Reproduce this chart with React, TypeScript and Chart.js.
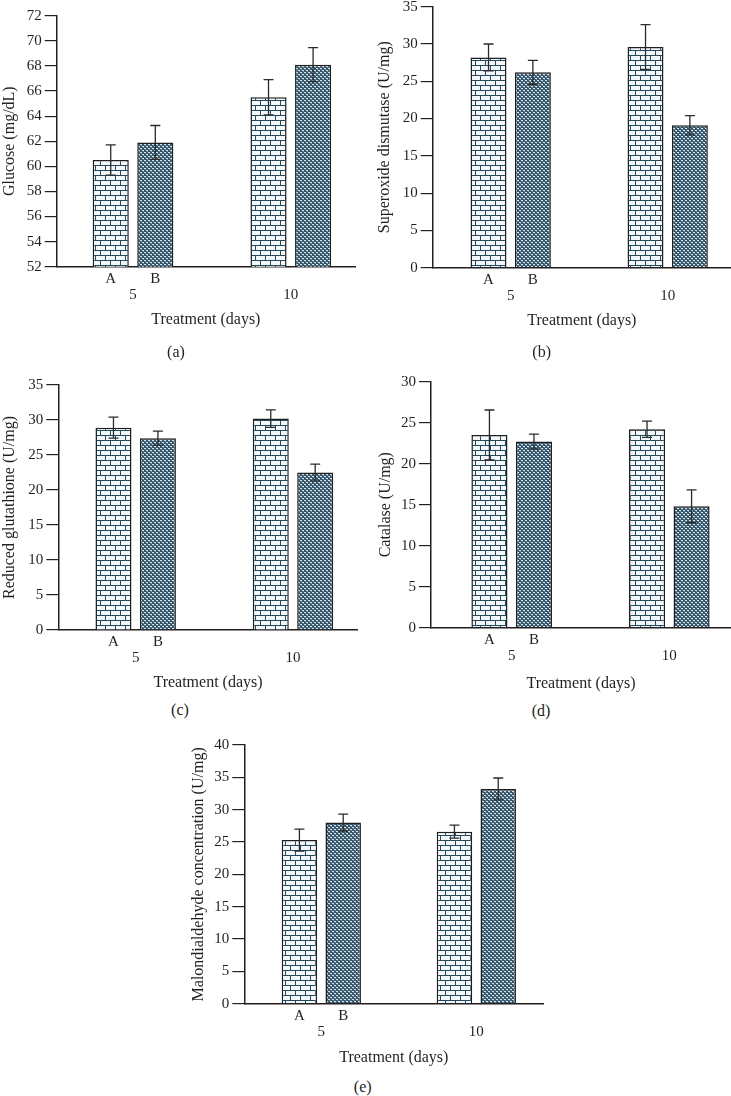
import { useEffect, useRef } from "react";
import { Chart, registerables } from "chart.js";

Chart.register(...registerables);

// ---------- data ----------
const days = [5, 10];
const seriesLabels = ["A", "B"];
const xTitle = "Treatment (days)";

const glucoseA = [60.5, 65.5];
const glucoseB = [61.9, 68.1];
const glucoseErrA = [1.2, 1.4];
const glucoseErrB = [1.35, 1.35];
const glucoseTicks = [52, 54, 56, 58, 60, 62, 64, 66, 68, 70, 72];

const sodA = [28.2, 29.6];
const sodB = [26.2, 19.1];
const sodErrA = [1.8, 3.0];
const sodErrB = [1.6, 1.3];
const sodTicks = [0, 5, 10, 15, 20, 25, 30, 35];

const gshA = [28.9, 30.2];
const gshB = [27.4, 22.5];
const gshErrA = [1.5, 1.25];
const gshErrB = [1.0, 1.2];
const gshTicks = [0, 5, 10, 15, 20, 25, 30, 35];

const catA = [23.5, 24.2];
const catB = [22.7, 14.8];
const catErrA = [3.05, 1.0];
const catErrB = [0.9, 2.0];
const catTicks = [0, 5, 10, 15, 20, 25, 30];

const mdaA = [25.3, 26.6];
const mdaB = [28.0, 33.2];
const mdaErrA = [1.7, 1.0];
const mdaErrB = [1.3, 1.7];
const mdaTicks = [0, 5, 10, 15, 20, 25, 30, 35, 40];

// ---------- style ----------
const FONT = "'Liberation Serif', 'DejaVu Serif', serif";
const TEXT = "#231f20";
const AXIS = "#231f20";
const LINE = "#24495b";
const TITLE_SIZE = 16;
const TICK_SIZE = 15;
const TITLE_LH = TITLE_SIZE * 1.2;

type Frame = {
  x0: number; y0: number; w: number; h: number;
  L: number; T: number; R: number; B: number;
  yTitleX: number; xTitleY: number; xMin: number; xMax: number;
};

type Panel = {
  key: string;
  caption: string;
  capX: number;
  capY: number;
  yTitle: string;
  ticks: number[];
  a: number[];
  b: number[];
  ea: number[];
  eb: number[];
  frame: Frame;
};

const panels: Panel[] = [
  {
    key: "a", caption: "(a)", capX: 176, capY: 352, yTitle: "Glucose (mg/dL)",
    ticks: glucoseTicks, a: glucoseA, b: glucoseB, ea: glucoseErrA, eb: glucoseErrB,
    frame: { x0: 0, y0: 0, w: 365, h: 340, L: 56.7, T: 15.7, R: 355, B: 266.7, yTitleX: 10, xTitleY: 320, xMin: 2.582, xMax: 12.034 },
  },
  {
    key: "b", caption: "(b)", capX: 541.7, capY: 352, yTitle: "Superoxide dismutase (U/mg)",
    ticks: sodTicks, a: sodA, b: sodB, ea: sodErrA, eb: sodErrB,
    frame: { x0: 365, y0: 0, w: 366, h: 340, L: 432.7, T: 6.7, R: 731, B: 267.7, yTitleX: 385, xTitleY: 320.7, xMin: 2.516, xMax: 12.016 },
  },
  {
    key: "c", caption: "(c)", capX: 180, capY: 710, yTitle: "Reduced glutathione (U/mg)",
    ticks: gshTicks, a: gshA, b: gshB, ea: gshErrA, eb: gshErrB,
    frame: { x0: 0, y0: 360, w: 365, h: 340, L: 58.3, T: 385, R: 357.7, B: 630, yTitleX: 10, xTitleY: 682.7, xMin: 2.54, xMax: 12.057 },
  },
  {
    key: "d", caption: "(d)", capX: 541, capY: 710.7, yTitle: "Catalase (U/mg)",
    ticks: catTicks, a: catA, b: catB, ea: catErrA, eb: catErrB,
    frame: { x0: 365, y0: 360, w: 366, h: 340, L: 431, T: 381.7, R: 731, B: 627.7, yTitleX: 386, xTitleY: 683.3, xMin: 2.44, xMax: 11.957 },
  },
  {
    key: "e", caption: "(e)", capX: 362.7, capY: 1086.7, yTitle: "Malondialdehyde concentration (U/mg)",
    ticks: mdaTicks, a: mdaA, b: mdaB, ea: mdaErrA, eb: mdaErrB,
    frame: { x0: 150, y0: 725, w: 430, h: 350, L: 244.3, T: 745, R: 543.3, B: 1003.7, yTitleX: 198.3, xTitleY: 1057.3, xMin: 2.516, xMax: 12.16 },
  },
];

// ---------- patterns ----------
function brickPattern(ctx: CanvasRenderingContext2D) {
  const c = document.createElement("canvas");
  c.width = 10;
  c.height = 10;
  const g = c.getContext("2d")!;
  g.fillStyle = "#f3f7f9";
  g.fillRect(0, 0, 10, 10);
  g.fillStyle = LINE;
  g.fillRect(0, 0, 10, 1);
  g.fillRect(0, 5, 10, 1);
  g.fillRect(0, 1, 1, 4);
  g.fillRect(5, 6, 1, 4);
  return ctx.createPattern(c, "repeat")!;
}

function weavePattern(ctx: CanvasRenderingContext2D) {
  const c = document.createElement("canvas");
  c.width = 4;
  c.height = 4;
  const g = c.getContext("2d")!;
  g.fillStyle = "#34566a";
  g.fillRect(0, 0, 4, 4);
  g.fillStyle = "#dae4ea";
  g.fillRect(0, 0, 2, 1);
  g.fillRect(2, 2, 2, 1);
  g.fillStyle = "#6f8b9a";
  g.fillRect(1, 1, 1, 1);
  g.fillRect(3, 3, 1, 1);
  return ctx.createPattern(c, "repeat")!;
}

// ---------- plugins ----------
const errorBars = {
  id: "errorBars",
  afterDatasetsDraw(chart: any) {
    const ctx = chart.ctx as CanvasRenderingContext2D;
    const y = chart.scales.y;
    chart.data.datasets.forEach((ds: any, di: number) => {
      const meta = chart.getDatasetMeta(di);
      meta.data.forEach((el: any, i: number) => {
        const v = ds.data[i].y;
        const e = ds.errors[i];
        const yt = y.getPixelForValue(v + e);
        const yb = y.getPixelForValue(v - e);
        ctx.save();
        ctx.strokeStyle = "#2b2b2b";
        ctx.lineWidth = 1.3;
        ctx.beginPath();
        ctx.moveTo(el.x, yb);
        ctx.lineTo(el.x, yt);
        ctx.moveTo(el.x - 5, yt);
        ctx.lineTo(el.x + 5, yt);
        ctx.moveTo(el.x - 5, yb);
        ctx.lineTo(el.x + 5, yb);
        ctx.stroke();
        ctx.restore();
      });
    });
  },
};

const seriesNames = {
  id: "seriesNames",
  afterDraw(chart: any) {
    const ctx = chart.ctx as CanvasRenderingContext2D;
    const bottom = chart.chartArea.bottom;
    ctx.save();
    ctx.font = `${TICK_SIZE}px ${FONT}`;
    ctx.fillStyle = TEXT;
    ctx.textAlign = "center";
    ctx.textBaseline = "middle";
    chart.data.datasets.forEach((ds: any, di: number) => {
      const el = chart.getDatasetMeta(di).data[0];
      if (el) ctx.fillText(ds.label, el.x, bottom + 12);
    });
    ctx.restore();
  },
};

function ChartPanel({ p }: { p: Panel }) {
  const ref = useRef<HTMLCanvasElement | null>(null);
  useEffect(() => {
    const canvas = ref.current!;
    const ctx = canvas.getContext("2d")!;
    const f = p.frame;
    const padLeft = f.yTitleX - TITLE_LH / 2 - f.x0;
    const yWidth = f.L - f.x0 - padLeft;
    const xScaleBottom = f.xTitleY + TITLE_LH / 2;
    const xHeight = xScaleBottom - f.B;
    const padBottom = f.y0 + f.h - xScaleBottom;
    const padTop = f.T - f.y0;
    const padRight = f.x0 + f.w - f.R;
    const tickFont = { family: FONT, size: TICK_SIZE };
    const titleFont = { family: FONT, size: TITLE_SIZE };

    const chart = new Chart(ctx, {
      type: "bar",
      data: {
        datasets: [
          {
            label: seriesLabels[0],
            data: days.map((d, i) => ({ x: d, y: p.a[i] })),
            errors: p.ea,
            backgroundColor: brickPattern(ctx),
            borderColor: "#1e1e1e",
            borderWidth: 1.5,
            categoryPercentage: 0.565,
            barPercentage: 0.81,
          } as any,
          {
            label: seriesLabels[1],
            data: days.map((d, i) => ({ x: d, y: p.b[i] })),
            errors: p.eb,
            backgroundColor: weavePattern(ctx),
            borderColor: "#1e1e1e",
            borderWidth: 1.5,
            categoryPercentage: 0.565,
            barPercentage: 0.81,
          } as any,
        ],
      },
      options: {
        animation: false,
        responsive: false,
        devicePixelRatio: 1,
        events: [],
        layout: { padding: { left: padLeft, right: padRight, top: padTop, bottom: padBottom } },
        plugins: { legend: { display: false }, tooltip: { enabled: false } },
        scales: {
          x: {
            type: "linear",
            offset: false,
            min: f.xMin,
            max: f.xMax,
            bounds: "data",
            afterBuildTicks: (s: any) => {
              s.ticks = days.map((v) => ({ value: v }));
            },
            afterFit: (s: any) => {
              s.height = xHeight;
              s.paddingLeft = 0;
              s.paddingRight = 0;
            },
            grid: { display: false, drawTicks: false, offset: false },
            border: { display: true, color: AXIS, width: 1.5 },
            ticks: { padding: 19.5, color: TEXT, font: tickFont, callback: (v: any) => String(v) },
            title: { display: true, text: xTitle, color: TEXT, font: titleFont, padding: { top: 0, bottom: 0 } },
          },
          y: {
            type: "linear",
            min: p.ticks[0],
            max: p.ticks[p.ticks.length - 1],
            bounds: "data",
            afterBuildTicks: (s: any) => {
              s.ticks = p.ticks.map((v) => ({ value: v }));
            },
            afterFit: (s: any) => {
              s.width = yWidth;
              s.paddingTop = 0;
              s.paddingBottom = 0;
            },
            grid: { display: true, drawOnChartArea: false, drawTicks: true, tickLength: 12, color: AXIS, lineWidth: 1.2 },
            border: { display: true, color: AXIS, width: 1.5 },
            ticks: { padding: 3, color: TEXT, font: tickFont, callback: (v: any) => String(v) },
            title: { display: true, text: p.yTitle, color: TEXT, font: titleFont, padding: { top: 0, bottom: 0 } },
          },
        },
      } as any,
      plugins: [errorBars, seriesNames],
    });
    return () => chart.destroy();
  }, [p]);

  const f = p.frame;
  return (
    <canvas
      ref={ref}
      width={f.w}
      height={f.h}
      style={{ position: "absolute", left: f.x0, top: f.y0, width: f.w, height: f.h }}
    />
  );
}

export default function App() {
  return (
    <div
      style={{
        position: "absolute",
        left: 0,
        top: 0,
        width: 731,
        height: 1096,
        background: "#ffffff",
        overflow: "hidden",
      }}
    >
      {panels.map((p) => (
        <ChartPanel key={p.key} p={p} />
      ))}
      {panels.map((p) => (
        <div
          key={"cap" + p.key}
          style={{
            position: "absolute",
            left: p.capX - 30,
            top: p.capY - 10,
            width: 60,
            height: 20,
            lineHeight: "20px",
            textAlign: "center",
            fontFamily: FONT,
            fontSize: TITLE_SIZE,
            color: TEXT,
          }}
        >
          {p.caption}
        </div>
      ))}
    </div>
  );
}
